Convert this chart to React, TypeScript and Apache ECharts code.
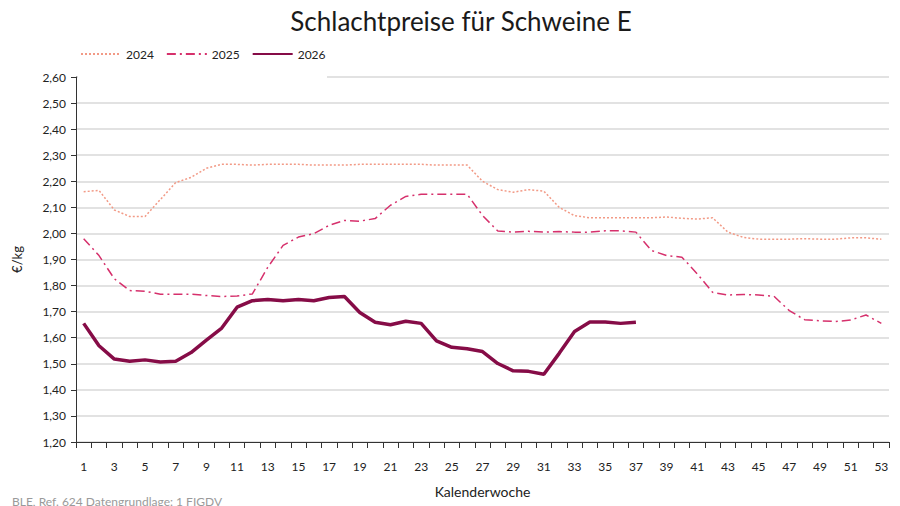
import React, { useEffect, useRef } from "react";
import * as echarts from "echarts";

const weeks: string[] = Array.from({ length: 53 }, (_, i) => String(i + 1));

const prices2024: number[] = [
  2.16, 2.165, 2.09, 2.065, 2.065, 2.13, 2.195, 2.215, 2.25, 2.265,
  2.265, 2.262, 2.265, 2.265, 2.265, 2.262, 2.262, 2.262, 2.265, 2.265,
  2.265, 2.265, 2.265, 2.262, 2.262, 2.262, 2.2, 2.168, 2.158, 2.168,
  2.162, 2.1, 2.068, 2.06, 2.06, 2.06, 2.06, 2.06, 2.063, 2.058,
  2.055, 2.06, 2.005, 1.985, 1.978, 1.978, 1.978, 1.98, 1.978, 1.978,
  1.983, 1.983, 1.978,
];

const prices2025: number[] = [
  1.98, 1.915, 1.826, 1.781, 1.778, 1.767, 1.767, 1.767, 1.762, 1.758,
  1.76, 1.768, 1.87, 1.954, 1.986, 1.999, 2.031, 2.05, 2.047, 2.057,
  2.108, 2.142, 2.15, 2.15, 2.15, 2.15, 2.069, 2.009, 2.005, 2.008,
  2.005, 2.007, 2.005, 2.005, 2.01, 2.01, 2.005, 1.935, 1.915, 1.909,
  1.845, 1.774, 1.764, 1.766, 1.764, 1.759, 1.704, 1.669, 1.665, 1.662,
  1.668, 1.687, 1.655,
];

const prices2026: number[] = [
  1.655, 1.569, 1.518, 1.51, 1.515, 1.507, 1.51, 1.543, 1.591, 1.637,
  1.717, 1.742, 1.747, 1.742, 1.747, 1.742, 1.754, 1.758, 1.697, 1.659,
  1.65, 1.663, 1.655, 1.588, 1.563, 1.558, 1.547, 1.501, 1.473, 1.471,
  1.46, 1.54, 1.624, 1.66, 1.66, 1.655, 1.659,
];

const seriesNames: string[] = ["2024", "2025", "2026"];

const titleText = "Schlachtpreise für Schweine E";
const yAxisName = "€/kg";
const xAxisName = "Kalenderwoche";
const sourceText = "BLE, Ref. 624 Datengrundlage: 1 FIGDV";

const FONT = "Lato, 'Noto Sans', sans-serif";

export default function App() {
  const ref = useRef<HTMLDivElement>(null);

  useEffect(() => {
    if (!ref.current) return;
    const chart = echarts.init(ref.current, undefined, { renderer: "svg" });
    chart.setOption({
      animation: false,
      backgroundColor: "#ffffff",
      textStyle: { fontFamily: FONT },
      title: {
        text: titleText,
        left: 456,
        textAlign: "center",
        top: 3,
        textStyle: { fontSize: 26, fontWeight: "normal", color: "#1a1a1a", fontFamily: FONT },
      },
      legend: {
        left: 75,
        top: 43,
        itemWidth: 40,
        itemHeight: 10,
        itemGap: 12,
        z: 5,
        itemStyle: { opacity: 0 },
        textStyle: { fontSize: 12, color: "#222", fontFamily: FONT },
        data: seriesNames,
      },
      graphic: [
        {
          type: "rect",
          z: 3,
          shape: { x: 78, y: 72, width: 249, height: 8 },
          style: { fill: "#ffffff" },
        },
        {
          type: "text",
          left: 12,
          top: 495,
          style: { text: sourceText, fontSize: 12, fill: "#9a9a9a", fontFamily: FONT },
        },
      ],
      grid: { left: 76, right: 11, top: 77, bottom: 64, containLabel: false },
      xAxis: {
        type: "category",
        data: weeks,
        boundaryGap: true,
        name: xAxisName,
        nameLocation: "middle",
        nameGap: 42,
        nameTextStyle: { fontSize: 14, color: "#222", fontFamily: FONT },
        axisLine: { show: true, lineStyle: { color: "#333", width: 1 } },
        axisTick: { show: true, interval: 0, length: 6, lineStyle: { color: "#333" } },
        axisLabel: { interval: 1, margin: 18, fontSize: 12, color: "#222", fontFamily: FONT },
        splitLine: { show: false },
      },
      yAxis: {
        type: "value",
        min: 1.2,
        max: 2.6,
        interval: 0.1,
        name: yAxisName,
        nameLocation: "middle",
        nameGap: 53,
        nameRotate: 90,
        nameTextStyle: { fontSize: 13, color: "#222", fontFamily: FONT },
        axisLine: { show: true, lineStyle: { color: "#333", width: 1 } },
        axisTick: { show: true, length: 5, lineStyle: { color: "#333" } },
        axisLabel: {
          margin: 10,
          fontSize: 12,
          color: "#222",
          fontFamily: FONT,
          formatter: (v: number) => v.toFixed(2).replace(".", ","),
        },
        splitLine: { show: true, lineStyle: { color: "#d9d9d9", width: 1.5 } },
      },
      series: [
        {
          name: seriesNames[0],
          type: "line",
          data: prices2024,
          symbol: "none",
          smooth: false,
          lineStyle: { color: "#f29a86", width: 1.5, type: [2, 2] },
          itemStyle: { color: "#f29a86" },
        },
        {
          name: seriesNames[1],
          type: "line",
          data: prices2025,
          symbol: "none",
          lineStyle: { color: "#d6306c", width: 1.5, type: [9, 4, 2, 4] },
          itemStyle: { color: "#d6306c" },
        },
        {
          name: seriesNames[2],
          type: "line",
          data: prices2026,
          symbol: "none",
          lineStyle: { color: "#860c47", width: 3.5 },
          itemStyle: { color: "#860c47" },
        },
      ],
    });
    return () => chart.dispose();
  }, []);

  return <div ref={ref} style={{ width: 900, height: 506, position: "absolute", left: 0, top: 0 }} />;
}
